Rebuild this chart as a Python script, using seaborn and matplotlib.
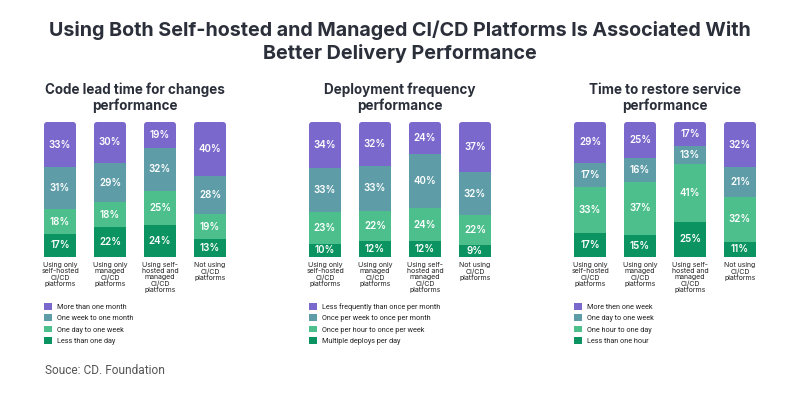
import numpy as np
import pandas as pd
import matplotlib
matplotlib.use("Agg")
import matplotlib.pyplot as plt
import seaborn as sns
from matplotlib.patches import FancyBboxPatch, Patch

# groups shown under every bar
groups = ["Using only\nself-hosted\nCI/CD\nplatforms",
          "Using only\nmanaged\nCI/CD\nplatforms",
          "Using self-\nhosted and\nmanaged\nCI/CD\nplatforms",
          "Not using\nCI/CD\nplatforms"]

panel_titles = ["Code lead time for changes\nperformance",
                "Deployment frequency\nperformance",
                "Time to restore service\nperformance"]

# segments listed bottom -> top
lead_labels = ["Less than one day", "One day to one week", "One week to one month", "More than one month"]
lead_vals = [[17, 22, 24, 13],
             [18, 18, 25, 19],
             [31, 29, 32, 28],
             [33, 30, 19, 40]]

deploy_labels = ["Multiple deploys per day", "Once per hour to once per week",
                 "Once per week to once per month", "Less frequently than once per month"]
deploy_vals = [[10, 12, 12, 9],
               [23, 22, 24, 22],
               [33, 33, 40, 32],
               [34, 32, 24, 37]]

restore_labels = ["Less than one hour", "One hour to one day", "One day to one week", "More then one week"]
restore_vals = [[17, 15, 25, 11],
                [33, 37, 41, 32],
                [17, 16, 13, 21],
                [29, 25, 17, 32]]

colors = ["#0b9462", "#4dbf8c", "#5e9da8", "#7b68cc"]

sns.set_theme(style="white")
plt.rcParams["font.family"] = ["Inter", "DejaVu Sans"]

fig = plt.figure(figsize=(8, 4), dpi=100)
fig.patch.set_facecolor("white")

fig.text(0.5, 0.925, "Using Both Self-hosted and Managed CI/CD Platforms Is Associated With",
         ha="center", va="center", fontsize=14.2, fontweight="bold", color="#2a2f3a")
fig.text(0.5, 0.866, "Better Delivery Performance",
         ha="center", va="center", fontsize=14.2, fontweight="bold", color="#2a2f3a")

lefts = [35, 300, 565]
panels = [(lead_labels, lead_vals), (deploy_labels, deploy_vals), (restore_labels, restore_vals)]

for i, (labels, vals) in enumerate(panels):
    ax = fig.add_axes([lefts[i] / 800, 143 / 400, 200 / 800, 135 / 400])
    vals = np.array(vals, dtype=float)
    # every bar fills the full height in the original
    shares = vals / vals.sum(axis=0) * 100
    cum = np.cumsum(shares, axis=0)
    # draw tallest cumulative first, smaller on top
    for k in range(3, -1, -1):
        df = pd.DataFrame({"group": groups, "value": cum[k]})
        n_before = len(ax.patches)
        sns.barplot(data=df, x="group", y="value", color=colors[k], saturation=1,
                    width=0.64, ax=ax, linewidth=0, errorbar=None)
        if k == 3:
            # round top corners of the full bars
            for p in list(ax.patches[n_before:]):
                x0, y0, w, h = p.get_x(), p.get_y(), p.get_width(), p.get_height()
                p.remove()
                ax.add_patch(FancyBboxPatch((x0, y0), w, h,
                                            boxstyle="round,pad=0,rounding_size=0.06",
                                            mutation_aspect=37, facecolor=colors[k],
                                            edgecolor="none", zorder=1))
    for k in range(4):
        for j in range(4):
            mid = cum[k][j] - shares[k][j] / 2
            ax.text(j, mid, f"{int(vals[k][j])}%", ha="center", va="center",
                    fontsize=7, fontweight="semibold", color="white", zorder=5)

    ax.set_xlim(-0.5, 3.5)
    ax.set_ylim(0, 100)
    ax.set_xlabel("")
    ax.set_ylabel("")
    ax.set_yticks([])
    ax.tick_params(axis="x", length=0, pad=3.5, labelsize=5, colors="#222222")
    for lab in ax.get_xticklabels():
        lab.set_linespacing(1.05)
    for s in ax.spines.values():
        s.set_visible(False)
    ax.set_facecolor("white")

    ax.text(0.5, 1.18, panel_titles[i], transform=ax.transAxes, ha="center", va="center",
            fontsize=9.7, fontweight="bold", color="#2a2f3a", linespacing=1.1)

    handles = [Patch(facecolor=colors[k], edgecolor="none", label=labels[k]) for k in range(3, -1, -1)]
    leg = ax.legend(handles=handles, loc="upper left",
                    bbox_to_anchor=((lefts[i] + 9) / 800, 0.242), bbox_transform=fig.transFigure,
                    frameon=False, fontsize=5.2, handlelength=1.1, handleheight=1.05,
                    handletextpad=0.7, labelspacing=0.48, borderpad=0, borderaxespad=0)
    for t in leg.get_texts():
        t.set_color("#222222")
        t.set_family(["Roboto", "DejaVu Sans"])

fig.text(45 / 800, 1 - 370 / 400, "Souce: CD. Foundation", ha="left", va="center",
         fontsize=8.6, color="#555555", family=["Roboto", "DejaVu Sans"])

fig.savefig("out.png", dpi=100, facecolor="white")
